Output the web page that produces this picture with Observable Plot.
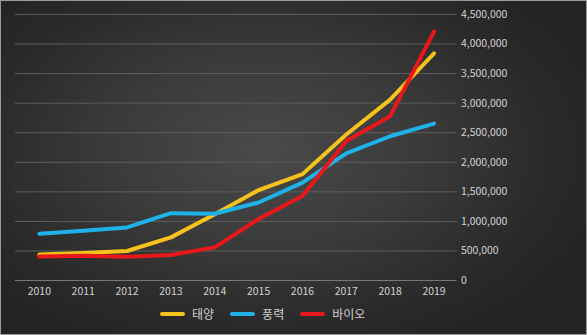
<!DOCTYPE html>
<html><head><meta charset="utf-8">
<script src="https://cdn.jsdelivr.net/npm/d3@7"></script>
<script src="https://cdn.jsdelivr.net/npm/@observablehq/plot@0.6"></script>
<style>
html,body{margin:0;padding:0;background:#fff;}
#wrap{position:relative;width:585px;height:333px;border:1px solid #9a9a9a;
 background:radial-gradient(ellipse 60% 65% at 45% 45%, #4a4a4a 0%, #3a3a3a 45%, #2a2a2a 80%, #242424 100%);
 overflow:hidden;font-family:"Noto Sans CJK KR","Noto Sans",sans-serif;}
#chart svg{display:block;background:transparent;}
#legend{position:absolute;left:159px;top:304px;display:flex;align-items:center;color:#d2d2d2;font-size:12px;}
#legend .it{display:flex;align-items:center;margin-right:16px;}
#legend .sw{width:25px;height:4px;border-radius:2px;margin-right:7px;}
</style></head>
<body>
<div id="wrap"><div id="chart"></div><div id="legend"></div></div>
<script>
const years = ["2010","2011","2012","2013","2014","2015","2016","2017","2018","2019"];
const seriesNames = ["태양","풍력","바이오"];
const solar = [440000,466000,500000,730000,1120000,1530000,1800000,2470000,3060000,3840000];
const wind  = [790000,842000,898000,1140000,1130000,1320000,1655000,2150000,2440000,2655000];
const bio   = [405000,421000,404000,432000,561000,1040000,1430000,2360000,2780000,4210000];
const colors = ["#f7c21b","#1eb2e8","#e8181a"];
const yTicks = [0,500000,1000000,1500000,2000000,2500000,3000000,3500000,4000000,4500000];

const allSeries = [solar, wind, bio];
const rows = [];
seriesNames.forEach((s, i) => years.forEach((y, j) => rows.push({series: s, year: y, value: allSeries[i][j]})));

const fmt = d3.format(",");
const plot = Plot.plot({
  width: 587, height: 302,
  marginTop: 13, marginBottom: 22, marginLeft: 14, marginRight: 130,
  style: {background: "transparent", color: "#d2d2d2", fontSize: "10.5px", fontFamily: "'Noto Sans CJK KR','Noto Sans',sans-serif"},
  x: {type: "point", domain: years, padding: 0.5, label: null},
  y: {domain: [0, 4500000], label: null},
  color: {domain: seriesNames, range: colors},
  marks: [
    Plot.ruleY(yTicks.filter(d => d > 0), {stroke: "#5e5e5e", strokeWidth: 1}),
    Plot.ruleY([0], {stroke: "#7a7a7a", strokeWidth: 1}),
    Plot.axisY({anchor: "right", ticks: yTicks, tickSize: 0, tickPadding: 4, tickFormat: fmt, fill: "#d2d2d2", label: null}),
    Plot.axisX({ticks: years, tickSize: 0, tickPadding: 7, fill: "#d2d2d2", label: null}),
    Plot.line(rows, {x: "year", y: "value", z: "series", stroke: "series", strokeWidth: 4, strokeLinecap: "round", strokeLinejoin: "round"})
  ]
});
document.getElementById("chart").appendChild(plot);

const leg = document.getElementById("legend");
seriesNames.forEach((s, i) => {
  const it = document.createElement("div"); it.className = "it";
  const sw = document.createElement("div"); sw.className = "sw"; sw.style.background = colors[i];
  const t = document.createElement("span"); t.textContent = s;
  it.appendChild(sw); it.appendChild(t); leg.appendChild(it);
});
</script>
</body></html>
